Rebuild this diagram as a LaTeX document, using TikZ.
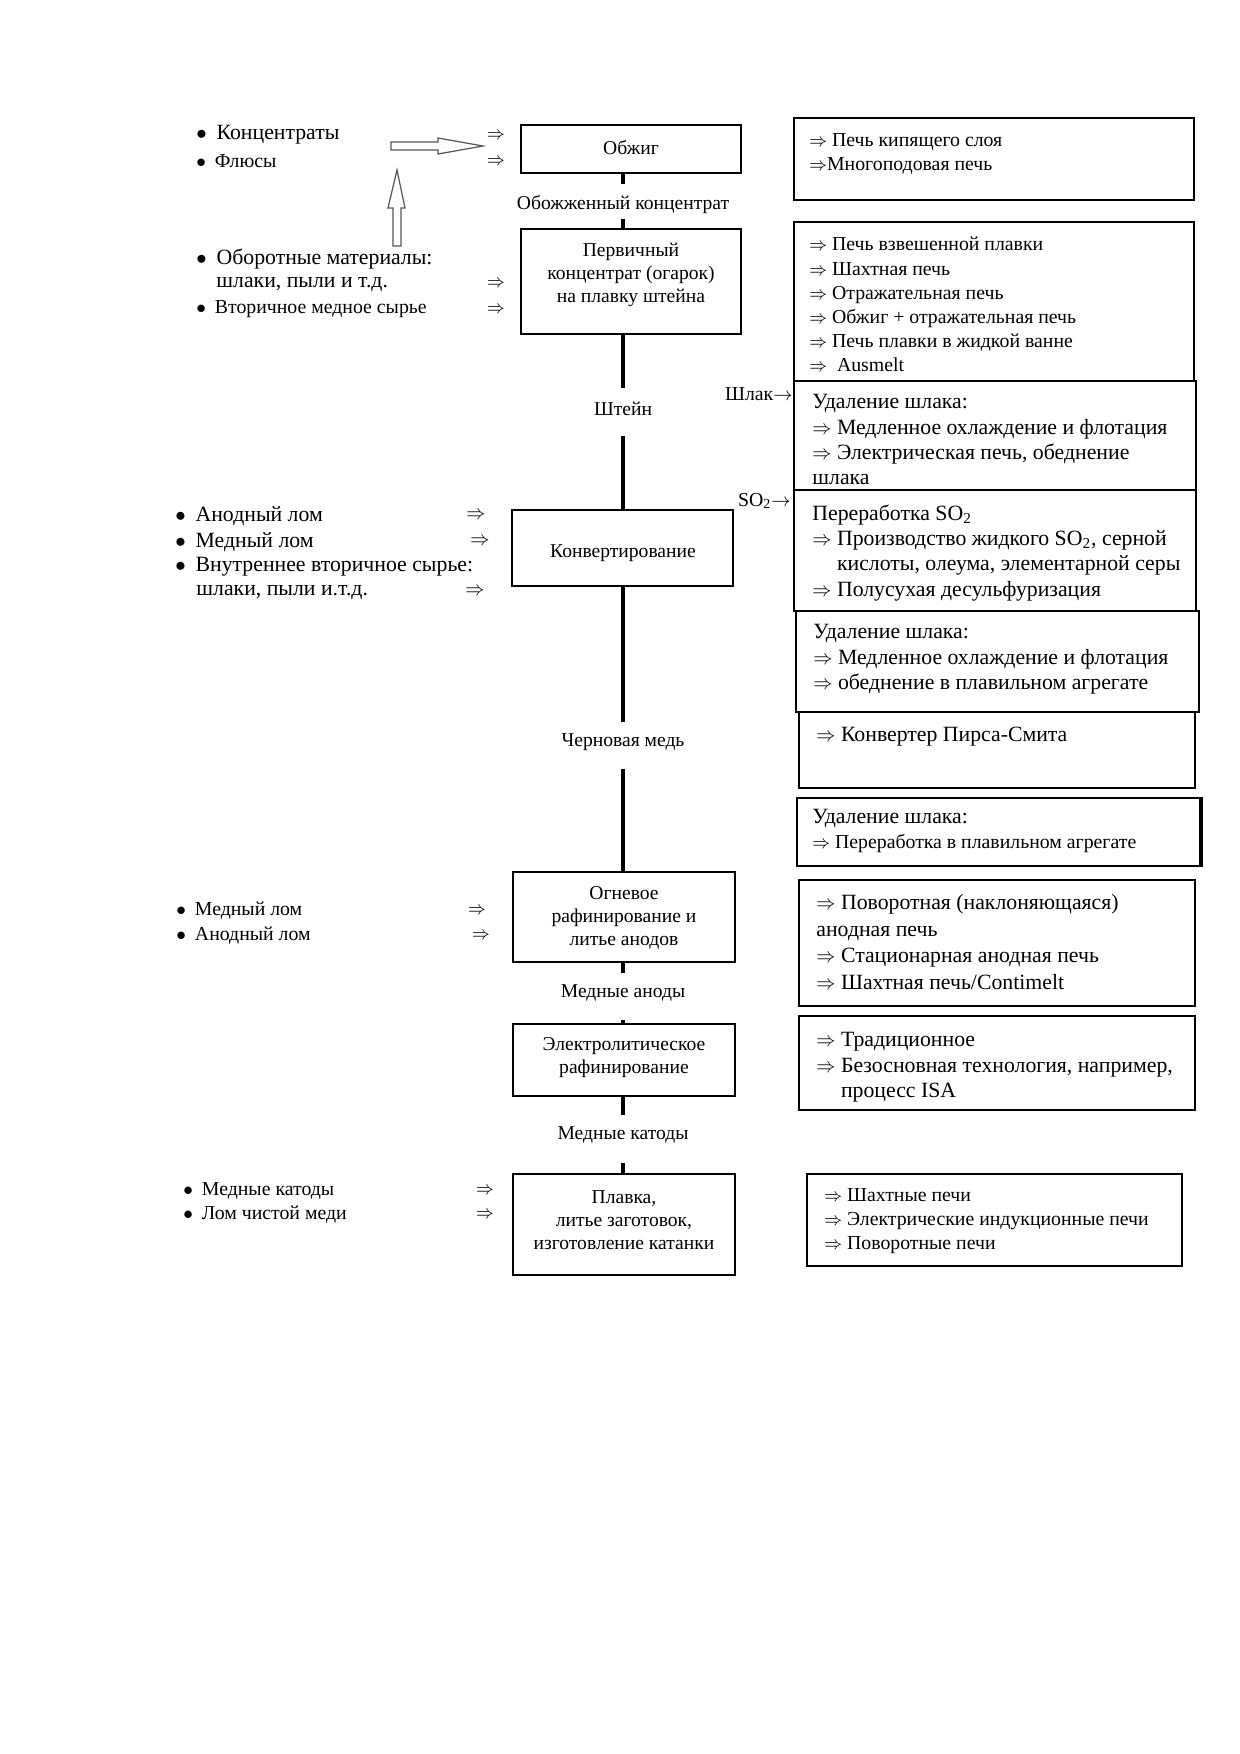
\documentclass[tikz,border=0pt]{standalone}
\usepackage{fontspec}
\setmainfont{Liberation Serif}
\usepackage{graphicx}
\usetikzlibrary{fit}
\newcommand{\impl}{\scalebox{0.92}[1]{$\Rightarrow$}}
\newcommand{\implsp}{\phantom{\impl\ }}
\newcommand{\bul}{$\bullet$\hspace{0.45em}}
\begin{document}
\begin{tikzpicture}[x=0.48pt,y=-0.48pt,
  box/.style={draw, line width=1pt, inner sep=0pt},
  sm/.style={font=\fontsize{9.5}{11.6}\selectfont, inner sep=0pt, align=left},
  lg/.style={font=\fontsize{10.45}{12.2}\selectfont, inner sep=0pt, align=left},
  ctext/.style={font=\fontsize{9.4}{11}\selectfont, inner sep=0pt, align=center},
  spine/.style={line width=2.2pt},
  hollow/.style={draw=black!65, line width=0.6pt, fill=white}
]
\useasboundingbox (0,0) rectangle (1240,1754);
\fill[white] (0,0) rectangle (1240,1754);

% ---------- left column: inputs ----------
\node[lg, anchor=west] (iconc) at (196,135) {\bul Концентраты};
\node[sm, anchor=west] (iflux) at (196,161) {\bul Флюсы};
\node[sm] (a1) at (496,136) {\impl};
\node[sm] (a2) at (496,162) {\impl};

\draw[hollow] (391,142) -- (438,142) -- (438,138) -- (483,146) -- (438,154) -- (438,150) -- (391,150) -- cycle;
\draw[hollow] (393,246) -- (393,208) -- (388,208) -- (397,170) -- (405,208) -- (401,208) -- (401,246) -- cycle;

\node[lg, anchor=west] (irec) at (196,259) {\bul Оборотные материалы:};
\node[lg, anchor=west] (irec2) at (216,284) {шлаки, пыли и т.д.};
\node[sm, anchor=west] (isec) at (196,309) {\bul Вторичное медное сырье};
\node[sm] (a3) at (496,284) {\impl};
\node[sm] (a4) at (496,310) {\impl};

\node[lg, anchor=west] (k1) at (175,516) {\bul Анодный лом};
\node[lg, anchor=west] (k2) at (175,542) {\bul Медный лом};
\node[lg, anchor=west] (k3) at (175,567) {\bul Внутреннее вторичное сырье:};
\node[lg, anchor=west] (k4) at (196,592) {шлаки, пыли и.т.д.};
\node[lg] (ka1) at (476,516) {\impl};
\node[lg] (ka2) at (480,542) {\impl};
\node[lg] (ka3) at (475,592) {\impl};

\node[sm, anchor=west] (o1) at (176,911) {\bul Медный лом};
\node[sm, anchor=west] (o2) at (176,936) {\bul Анодный лом};
\node[sm] (oa1) at (477,911) {\impl};
\node[sm] (oa2) at (481,936) {\impl};

\node[sm, anchor=west] (p1) at (183,1191) {\bul Медные катоды};
\node[sm, anchor=west] (p2) at (183,1215) {\bul Лом чистой меди};
\node[sm] (pa1) at (485,1191) {\impl};
\node[sm] (pa2) at (485,1215) {\impl};

% ---------- central process boxes ----------
\node[box, fit={(521,125) (741,173)}] (obzhig) {};
\node[ctext] (tobzhig) at (631,148) {Обжиг};
\node[box, fit={(521,229) (741,334)}] (perv) {};
\node[ctext] (tperv) at (631,275) {Первичный\\концентрат (огарок)\\на плавку штейна};
\node[box, fit={(512,510) (733,586)}] (konv) {};
\node[ctext] (tkonv) at (623,553) {Конвертирование};
\node[box, fit={(513,872) (735,962)}] (ogn) {};
\node[ctext] (togn) at (624,918) {Огневое\\рафинирование и\\литье анодов};
\node[box, fit={(513,1024) (735,1096)}] (elec) {};
\node[ctext] (telec) at (624,1058) {Электролитическое\\рафинирование};
\node[box, fit={(513,1174) (735,1275)}] (plav) {};
\node[ctext] (tplav) at (624,1220) {Плавка,\\литье заготовок,\\изготовление катанки};

% ---------- intermediate products on the spine ----------
\node[ctext] (l1) at (623,205) {Обожженный концентрат};
\node[ctext] (l2) at (623,409) {Штейн};
\node[ctext] (l3) at (623,742) {Черновая медь};
\node[ctext] (l4) at (623,993) {Медные аноды};
\node[ctext] (l5) at (623,1135) {Медные катоды};

\draw[spine, shorten >=10pt] (l1 |- obzhig.south) -- (l1.center);
\draw[spine, shorten <=6.5pt] (l1.center) -- (l1 |- perv.north);
\draw[spine, shorten >=10pt] (l2 |- perv.south) -- (l2.center);
\draw[spine, shorten <=13pt] (l2.center) -- (l2 |- konv.north);
\draw[spine, shorten >=9.6pt] (l3 |- konv.south) -- (l3.center);
\draw[spine, shorten <=13pt] (l3.center) -- (l3 |- ogn.north);
\draw[spine, shorten >=9.6pt] (l4 |- ogn.south) -- (l4.center);
\draw[spine, shorten <=13pt] (l4.center) -- (l4 |- elec.north);
\draw[spine, shorten >=9.6pt] (l5 |- elec.south) -- (l5.center);
\draw[spine, shorten <=13.4pt] (l5.center) -- (l5 |- plav.north);

% ---------- right column: equipment ----------
\node[box, fit={(794,118) (1194,200)}] (rb1) {};
\node[sm, anchor=north west] (trb1) at (809,133) {\impl\ Печь кипящего слоя\\\impl Многоподовая печь};

\node[box, fit={(794,222) (1194,381)}] (rb2) {};
\node[sm, anchor=north west] (trb2) at (809,237) {\impl\ Печь взвешенной плавки\\\impl\ Шахтная печь\\\impl\ Отражательная печь\\\impl\ Обжиг + отражательная печь\\\impl\ Печь плавки в жидкой ванне\\\impl\ \ Ausmelt};

\node[box, fit={(794,381) (1196,490)}] (rb3) {};
\node[lg, anchor=north west] (trb3) at (812,394) {Удаление шлака:\\\impl\ Медленное охлаждение и флотация\\\impl\ Электрическая печь, обеднение\\шлака};

\node[box, fit={(794,490) (1196,611)}] (rb4) {};
\node[lg, anchor=north west] (trb4) at (812,504) {Переработка SO\textsubscript{2}\\\impl\ Производство жидкого SO\textsubscript{2}, серной\\\implsp кислоты, олеума, элементарной серы\\\impl\ Полусухая десульфуризация};

\node[box, fit={(796,611) (1199,712)}] (rb5) {};
\node[lg, anchor=north west] (trb5) at (813,624) {Удаление шлака:\\\impl\ Медленное охлаждение и флотация\\\impl\ обеднение в плавильном агрегате};

\node[box, fit={(799,712) (1195,788)}] (rb6) {};
\node[lg, anchor=north west] (trb6) at (816,727) {\impl\ Конвертер Пирса-Смита};

\node[box, fit={(797,798) (1200,866)}] (rb7) {};
\draw[line width=2pt] (rb7.north east) -- (rb7.south east);
\node[lg, anchor=west] (trb7a) at (812,818) {Удаление шлака:};
\node[sm, anchor=west] (trb7b) at (812,844) {\impl\ Переработка в плавильном агрегате};

\node[box, fit={(799,880) (1195,1006)}] (rb8) {};
\node[lg, anchor=north west, font=\fontsize{10.45}{12.8}\selectfont] (trb8) at (816,894) {\impl\ Поворотная (наклоняющаяся)\\анодная печь\\\impl\ Стационарная анодная печь\\\impl\ Шахтная печь/Contimelt};

\node[box, fit={(799,1016) (1195,1110)}] (rb9) {};
\node[lg, anchor=north west] (trb9) at (816,1032) {\impl\ Традиционное\\\impl\ Безосновная технология, например,\\\implsp процесс ISA};

\node[box, fit={(807,1174) (1182,1266)}] (rb10) {};
\node[sm, anchor=north west] (trb10) at (824,1188) {\impl\ Шахтные печи\\\impl\ Электрические индукционные печи\\\impl\ Поворотные печи};

% ---------- side streams ----------
\node[sm, anchor=east] (slag) at (793,394) {Шлак$\rightarrow$};
\node[sm, anchor=east] (so2) at (791,501) {SO\textsubscript{2}$\rightarrow$};
\end{tikzpicture}
\end{document}
